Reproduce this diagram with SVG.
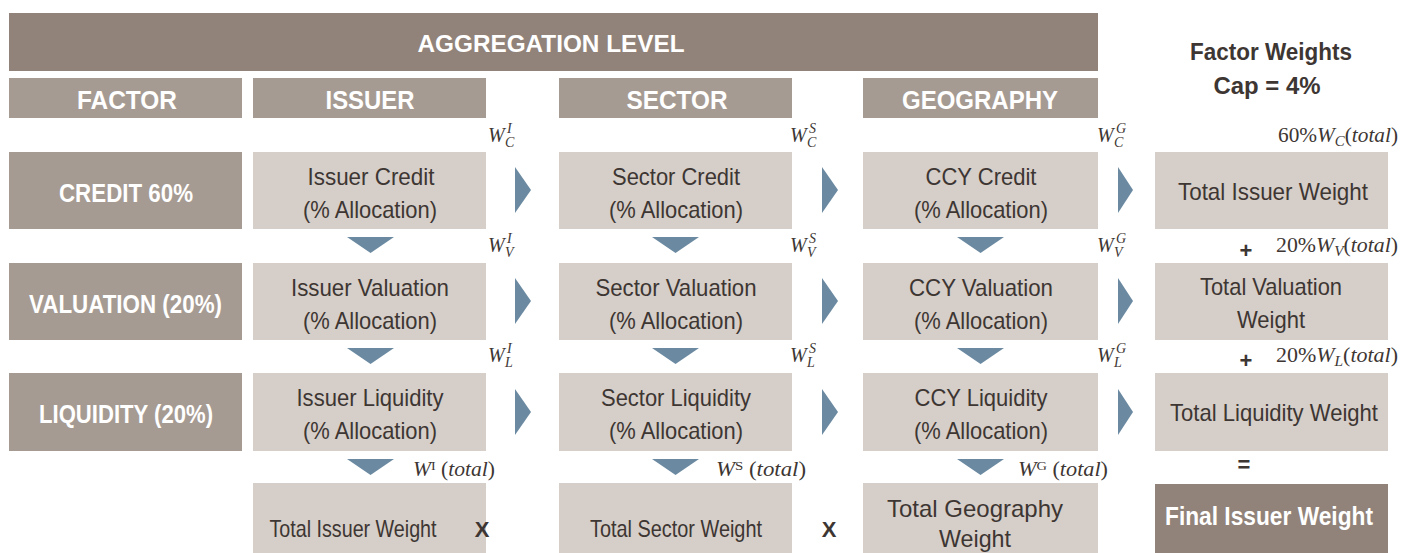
<svg xmlns="http://www.w3.org/2000/svg" width="1401" height="553" viewBox="0 0 1401 553">
  <style>
    .dark { fill: #918379; }
    .head { fill: #a69b92; }
    .cell { fill: #d6cec8; }
    .arrow { fill: #6b8aa1; }
    .hw { font-family: "Liberation Sans", Arial, sans-serif; font-weight: bold; fill: #ffffff; text-anchor: middle; }
    .body { font-family: "Liberation Sans", Arial, sans-serif; font-size: 24px; fill: #3d3633; text-anchor: middle; }
    .bold { font-family: "Liberation Sans", Arial, sans-serif; font-weight: bold; fill: #3d3633; text-anchor: middle; }
    .m { font-family: "Liberation Serif", "DejaVu Serif", serif; font-size: 20px; fill: #3d3633; }
    .mi { font-style: italic; }
    .ms { font-size: 14px; font-style: italic; }
  </style>

  <!-- header banner -->
  <g id="banner">
    <rect class="dark" x="9" y="13" width="1089" height="58"/>
    <text class="hw" x="551" y="52" font-size="24" textLength="267" lengthAdjust="spacingAndGlyphs">AGGREGATION LEVEL</text>
  </g>
  <g id="factor-weights">
    <text class="bold" x="1271" y="60" font-size="23" textLength="162" lengthAdjust="spacingAndGlyphs">Factor Weights</text>
    <text class="bold" x="1267" y="94" font-size="23" textLength="107" lengthAdjust="spacingAndGlyphs">Cap = 4%</text>
  </g>

  <!-- column headers -->
  <g id="hdr-factor">
    <rect class="head" x="9" y="78" width="233" height="40"/>
    <text class="hw" x="127" y="109" font-size="26" textLength="100" lengthAdjust="spacingAndGlyphs">FACTOR</text>
  </g>
  <g id="hdr-issuer">
    <rect class="head" x="253" y="78" width="233" height="40"/>
    <text class="hw" x="370" y="109" font-size="26" textLength="89" lengthAdjust="spacingAndGlyphs">ISSUER</text>
  </g>
  <g id="hdr-sector">
    <rect class="head" x="559" y="78" width="233" height="40"/>
    <text class="hw" x="677" y="109" font-size="26" textLength="101" lengthAdjust="spacingAndGlyphs">SECTOR</text>
  </g>
  <g id="hdr-geography">
    <rect class="head" x="863" y="78" width="235" height="40"/>
    <text class="hw" x="980" y="109" font-size="26" textLength="156" lengthAdjust="spacingAndGlyphs">GEOGRAPHY</text>
  </g>

  <!-- factor rows -->
  <g id="f-credit">
    <rect class="head" x="9" y="152" width="233" height="77"/>
    <text class="hw" x="126" y="202" font-size="25" textLength="134" lengthAdjust="spacingAndGlyphs">CREDIT 60%</text>
  </g>
  <g id="f-valuation">
    <rect class="head" x="9" y="263" width="233" height="77"/>
    <text class="hw" x="125.5" y="313" font-size="25" textLength="193" lengthAdjust="spacingAndGlyphs">VALUATION (20%)</text>
  </g>
  <g id="f-liquidity">
    <rect class="head" x="9" y="373" width="233" height="78"/>
    <text class="hw" x="126" y="423" font-size="25" textLength="174" lengthAdjust="spacingAndGlyphs">LIQUIDITY (20%)</text>
  </g>

  <!-- issuer column -->
  <g id="issuer-credit">
    <rect class="cell" x="253" y="152" width="233" height="77"/>
    <text class="body" x="371" y="185" textLength="127" lengthAdjust="spacingAndGlyphs">Issuer Credit</text>
    <text class="body" x="370" y="218" textLength="134" lengthAdjust="spacingAndGlyphs">(% Allocation)</text>
  </g>
  <g id="issuer-valuation">
    <rect class="cell" x="253" y="263" width="233" height="77"/>
    <text class="body" x="370" y="296" textLength="158" lengthAdjust="spacingAndGlyphs">Issuer Valuation</text>
    <text class="body" x="370" y="329" textLength="134" lengthAdjust="spacingAndGlyphs">(% Allocation)</text>
  </g>
  <g id="issuer-liquidity">
    <rect class="cell" x="253" y="373" width="233" height="78"/>
    <text class="body" x="370" y="406" textLength="147" lengthAdjust="spacingAndGlyphs">Issuer Liquidity</text>
    <text class="body" x="370" y="439" textLength="134" lengthAdjust="spacingAndGlyphs">(% Allocation)</text>
  </g>
  <g id="issuer-total">
    <rect class="cell" x="253" y="483" width="233" height="75"/>
    <text class="body" x="353" y="537" textLength="167" lengthAdjust="spacingAndGlyphs">Total Issuer Weight</text>
  </g>

  <!-- sector column -->
  <g id="sector-credit">
    <rect class="cell" x="559" y="152" width="233" height="77"/>
    <text class="body" x="676" y="185" textLength="128" lengthAdjust="spacingAndGlyphs">Sector Credit</text>
    <text class="body" x="676" y="218" textLength="134" lengthAdjust="spacingAndGlyphs">(% Allocation)</text>
  </g>
  <g id="sector-valuation">
    <rect class="cell" x="559" y="263" width="233" height="77"/>
    <text class="body" x="676" y="296" textLength="161" lengthAdjust="spacingAndGlyphs">Sector Valuation</text>
    <text class="body" x="676" y="329" textLength="134" lengthAdjust="spacingAndGlyphs">(% Allocation)</text>
  </g>
  <g id="sector-liquidity">
    <rect class="cell" x="559" y="373" width="233" height="78"/>
    <text class="body" x="676" y="406" textLength="150" lengthAdjust="spacingAndGlyphs">Sector Liquidity</text>
    <text class="body" x="676" y="439" textLength="134" lengthAdjust="spacingAndGlyphs">(% Allocation)</text>
  </g>
  <g id="sector-total">
    <rect class="cell" x="559" y="483" width="233" height="75"/>
    <text class="body" x="676" y="537" textLength="172" lengthAdjust="spacingAndGlyphs">Total Sector Weight</text>
  </g>

  <!-- geography column -->
  <g id="geo-credit">
    <rect class="cell" x="863" y="152" width="235" height="77"/>
    <text class="body" x="981" y="185" textLength="111" lengthAdjust="spacingAndGlyphs">CCY Credit</text>
    <text class="body" x="981" y="218" textLength="134" lengthAdjust="spacingAndGlyphs">(% Allocation)</text>
  </g>
  <g id="geo-valuation">
    <rect class="cell" x="863" y="263" width="235" height="77"/>
    <text class="body" x="981" y="296" textLength="144" lengthAdjust="spacingAndGlyphs">CCY Valuation</text>
    <text class="body" x="981" y="329" textLength="134" lengthAdjust="spacingAndGlyphs">(% Allocation)</text>
  </g>
  <g id="geo-liquidity">
    <rect class="cell" x="863" y="373" width="235" height="78"/>
    <text class="body" x="981" y="406" textLength="133" lengthAdjust="spacingAndGlyphs">CCY Liquidity</text>
    <text class="body" x="981" y="439" textLength="134" lengthAdjust="spacingAndGlyphs">(% Allocation)</text>
  </g>
  <g id="geo-total">
    <rect class="cell" x="863" y="483" width="235" height="75"/>
    <text class="body" x="975" y="517" textLength="176" lengthAdjust="spacingAndGlyphs">Total Geography</text>
    <text class="body" x="975" y="547" textLength="72" lengthAdjust="spacingAndGlyphs">Weight</text>
  </g>

  <!-- total weights column -->
  <g id="total-issuer">
    <rect class="cell" x="1155" y="152" width="233" height="77"/>
    <text class="body" x="1273" y="200" textLength="190" lengthAdjust="spacingAndGlyphs">Total Issuer Weight</text>
  </g>
  <g id="total-valuation">
    <rect class="cell" x="1155" y="263" width="233" height="77"/>
    <text class="body" x="1271" y="295" textLength="142" lengthAdjust="spacingAndGlyphs">Total Valuation</text>
    <text class="body" x="1271" y="328" textLength="68" lengthAdjust="spacingAndGlyphs">Weight</text>
  </g>
  <g id="total-liquidity">
    <rect class="cell" x="1155" y="373" width="233" height="78"/>
    <text class="body" x="1274" y="421" textLength="208" lengthAdjust="spacingAndGlyphs">Total Liquidity Weight</text>
  </g>
  <g id="final-weight">
    <rect class="dark" x="1155" y="484" width="233" height="74"/>
    <text class="hw" x="1269" y="525" font-size="25" textLength="208" lengthAdjust="spacingAndGlyphs">Final Issuer Weight</text>
  </g>

  <!-- flow arrows -->
  <g id="connectors">
    <!-- rightward -->
    <polygon class="arrow" points="515,167 531,190 515,213"/>
    <polygon class="arrow" points="822,167 838,190 822,213"/>
    <polygon class="arrow" points="1118,167 1133,190 1118,213"/>
    <polygon class="arrow" points="515,278 531,301 515,324"/>
    <polygon class="arrow" points="822,278 838,301 822,324"/>
    <polygon class="arrow" points="1118,278 1133,301 1118,324"/>
    <polygon class="arrow" points="515,389 531,412 515,435"/>
    <polygon class="arrow" points="822,389 838,412 822,435"/>
    <polygon class="arrow" points="1118,389 1133,412 1118,435"/>
    <!-- downward -->
    <polygon class="arrow" points="347,237 394,237 370.5,253"/>
    <polygon class="arrow" points="652,237 699,237 675.5,253"/>
    <polygon class="arrow" points="957,237 1004,237 980.5,253"/>
    <polygon class="arrow" points="347,348 394,348 370.5,364"/>
    <polygon class="arrow" points="652,348 699,348 675.5,364"/>
    <polygon class="arrow" points="957,348 1004,348 980.5,364"/>
    <polygon class="arrow" points="347,459 394,459 370.5,475"/>
    <polygon class="arrow" points="652,459 699,459 675.5,475"/>
    <polygon class="arrow" points="957,459 1004,459 980.5,475"/>
  </g>

  <!-- weight symbols -->
  <g id="weights">
    <text class="m"><tspan class="mi" x="488" y="142">W</tspan><tspan class="ms" x="505" y="147">C</tspan><tspan class="ms" x="507" y="133">I</tspan></text>
    <text class="m"><tspan class="mi" x="790" y="142">W</tspan><tspan class="ms" x="807" y="147">C</tspan><tspan class="ms" x="809" y="133">S</tspan></text>
    <text class="m"><tspan class="mi" x="1097" y="142">W</tspan><tspan class="ms" x="1114" y="147">C</tspan><tspan class="ms" x="1116" y="133">G</tspan></text>

    <text class="m"><tspan class="mi" x="488" y="252">W</tspan><tspan class="ms" x="505" y="257">V</tspan><tspan class="ms" x="507" y="243">I</tspan></text>
    <text class="m"><tspan class="mi" x="790" y="252">W</tspan><tspan class="ms" x="807" y="257">V</tspan><tspan class="ms" x="809" y="243">S</tspan></text>
    <text class="m"><tspan class="mi" x="1097" y="252">W</tspan><tspan class="ms" x="1114" y="257">V</tspan><tspan class="ms" x="1116" y="243">G</tspan></text>

    <text class="m"><tspan class="mi" x="488" y="362">W</tspan><tspan class="ms" x="505" y="367">L</tspan><tspan class="ms" x="507" y="353">I</tspan></text>
    <text class="m"><tspan class="mi" x="790" y="362">W</tspan><tspan class="ms" x="807" y="367">L</tspan><tspan class="ms" x="809" y="353">S</tspan></text>
    <text class="m"><tspan class="mi" x="1097" y="362">W</tspan><tspan class="ms" x="1114" y="367">L</tspan><tspan class="ms" x="1116" y="353">G</tspan></text>

    <text class="m" x="413" y="476" textLength="82" lengthAdjust="spacingAndGlyphs"><tspan class="mi">W</tspan><tspan font-size="13" dy="-6">I</tspan><tspan dy="6"> (</tspan><tspan class="mi">total</tspan>)</text>
    <text class="m" x="716" y="476" textLength="90" lengthAdjust="spacingAndGlyphs"><tspan class="mi">W</tspan><tspan font-size="13" dy="-6">S</tspan><tspan dy="6"> (</tspan><tspan class="mi">total</tspan>)</text>
    <text class="m" x="1018" y="476" textLength="90" lengthAdjust="spacingAndGlyphs"><tspan class="mi">W</tspan><tspan font-size="13" dy="-6">G</tspan><tspan dy="6"> (</tspan><tspan class="mi">total</tspan>)</text>

    <text class="m" x="1278" y="142" textLength="120" lengthAdjust="spacingAndGlyphs">60%<tspan class="mi">W</tspan><tspan class="ms" dy="4">C</tspan><tspan dy="-4">(</tspan><tspan class="mi">total</tspan>)</text>
    <text class="m" x="1276" y="252" textLength="122" lengthAdjust="spacingAndGlyphs">20%<tspan class="mi">W</tspan><tspan class="ms" dy="4">V</tspan><tspan dy="-4">(</tspan><tspan class="mi">total</tspan>)</text>
    <text class="m" x="1276" y="362" textLength="122" lengthAdjust="spacingAndGlyphs">20%<tspan class="mi">W</tspan><tspan class="ms" dy="4">L</tspan><tspan dy="-4">(</tspan><tspan class="mi">total</tspan>)</text>
  </g>

  <!-- operators -->
  <g id="operators">
    <text class="bold" x="1246" y="258" font-size="22">+</text>
    <text class="bold" x="1246" y="368" font-size="22">+</text>
    <text class="bold" x="1244" y="472" font-size="22">=</text>
    <text class="bold" x="482" y="537" font-size="22">X</text>
    <text class="bold" x="829" y="537" font-size="22">X</text>
  </g>
</svg>
